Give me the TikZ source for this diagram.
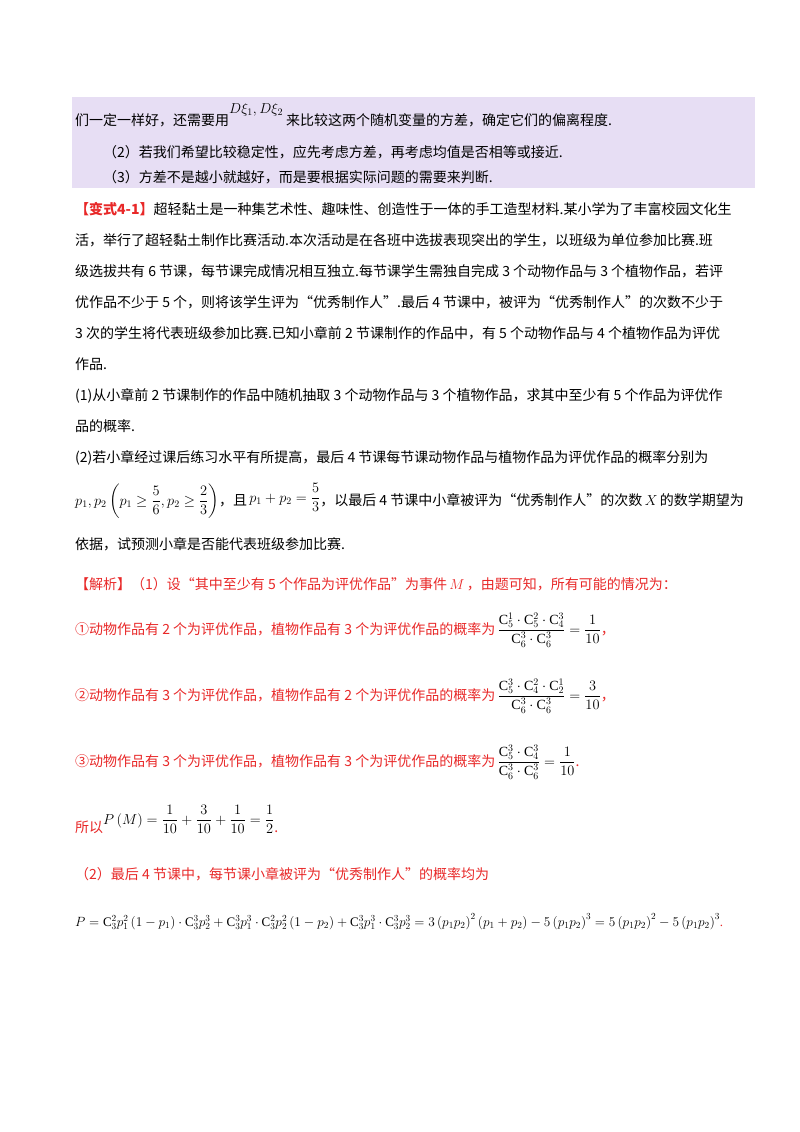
\documentclass[tikz,border=0pt]{standalone}
\usepackage{amsmath}
\usepackage{fontspec}
\setmainfont{Liberation Serif}
\newfontfamily\cjk{Noto Sans CJK SC}
\definecolor{boxbg}{RGB}{231,222,244}
\definecolor{ansred}{RGB}{232,40,40}
\tikzset{ln/.style={anchor=base west,inner sep=0pt,font=\cjk\fontsize{14}{16}\selectfont}}
\begin{document}
\begin{tikzpicture}[x=1pt,y=-1pt]
\useasboundingbox (0,0) rectangle (800,1132);
\fill[boxbg] (72,97) rectangle (755,188);
\node[ln] (l1) at (75,125) {们一定一样好，还需要用\raisebox{12pt}{$D\xi_1,D\xi_2$}\ 来比较这两个随机变量的方差，确定它们的偏离程度.};
\node[ln] (l2) at (103,157) {（2）若我们希望比较稳定性，应先考虑方差，再考虑均值是否相等或接近.};
\node[ln] (l3) at (103,182) {（3）方差不是越小就越好，而是要根据实际问题的需要来判断.};
\node[ln] (v1) at (75,214) {\textcolor{ansred}{\bfseries 【变式4-1】}超轻黏土是一种集艺术性、趣味性、创造性于一体的手工造型材料.某小学为了丰富校园文化生};
\node[ln] (v2) at (75,245) {活，举行了超轻黏土制作比赛活动.本次活动是在各班中选拔表现突出的学生，以班级为单位参加比赛.班};
\node[ln] (v3) at (75,276) {级选拔共有 6 节课，每节课完成情况相互独立.每节课学生需独自完成 3 个动物作品与 3 个植物作品，若评};
\node[ln] (v4) at (75,307) {优作品不少于 5 个，则将该学生评为“优秀制作人”.最后 4 节课中，被评为“优秀制作人”的次数不少于};
\node[ln] (v5) at (75,338) {3 次的学生将代表班级参加比赛.已知小章前 2 节课制作的作品中，有 5 个动物作品与 4 个植物作品为评优};
\node[ln] (v6) at (75,369) {作品.};
\node[ln] (q1) at (75,400) {(1)从小章前 2 节课制作的作品中随机抽取 3 个动物作品与 3 个植物作品，求其中至少有 5 个作品为评优作};
\node[ln] (q1b) at (75,431) {品的概率.};
\node[ln] (q2) at (75,462) {(2)若小章经过课后练习水平有所提高，最后 4 节课每节课动物作品与植物作品为评优作品的概率分别为};
\node[ln] (q2b) at (75,505) {$p_1,p_2\left(p_1\ge\dfrac56,p_2\ge\dfrac23\right)$，且\,\raisebox{3pt}{$p_1+p_2=\dfrac53$}，以最后 4 节课中小章被评为“优秀制作人”的次数$\,X\,$的数学期望为};
\node[ln] (q2c) at (75,549) {依据，试预测小章是否能代表班级参加比赛.};
\begin{scope}[every node/.append style={text=ansred}]
\node[ln] (a0) at (75,589) {【解析】（1）设“其中至少有 5 个作品为评优作品”为事件$\,M\,$，由题可知，所有可能的情况为：};
\node[ln] (a1) at (75,634) {①动物作品有 2 个为评优作品，植物作品有 3 个为评优作品的概率为\,\textcolor{black}{$\dfrac{\mathrm C_5^1\cdot\mathrm C_5^2\cdot\mathrm C_4^3}{\mathrm C_6^3\cdot\mathrm C_6^3}=\dfrac{1}{10}$}，};
\node[ln] (a2) at (75,700) {②动物作品有 3 个为评优作品，植物作品有 2 个为评优作品的概率为\,\textcolor{black}{$\dfrac{\mathrm C_5^3\cdot\mathrm C_4^2\cdot\mathrm C_2^1}{\mathrm C_6^3\cdot\mathrm C_6^3}=\dfrac{3}{10}$}，};
\node[ln] (a3) at (75,766) {③动物作品有 3 个为评优作品，植物作品有 3 个为评优作品的概率为\,\textcolor{black}{$\dfrac{\mathrm C_5^3\cdot\mathrm C_4^3}{\mathrm C_6^3\cdot\mathrm C_6^3}=\dfrac{1}{10}$}.};
\node[ln] (a4) at (75,832) {所以\raisebox{8pt}{\textcolor{black}{$P\left(M\right)=\dfrac1{10}+\dfrac3{10}+\dfrac1{10}=\dfrac12$}}.};
\node[ln] (a5) at (75,879) {（2）最后 4 节课中，每节课小章被评为“优秀制作人”的概率均为};
\node[anchor=base west,inner sep=0pt] (a6) at (75,926) {\resizebox{648pt}{!}{\fontsize{14}{16}\selectfont\textcolor{black}{$P=\mathrm C_3^2p_1^2\left(1-p_1\right)\cdot\mathrm C_3^3p_2^3+\mathrm C_3^3p_1^3\cdot\mathrm C_3^2p_2^2\left(1-p_2\right)+\mathrm C_3^3p_1^3\cdot\mathrm C_3^3p_2^3=3\left(p_1p_2\right)^2\left(p_1+p_2\right)-5\left(p_1p_2\right)^3=5\left(p_1p_2\right)^2-5\left(p_1p_2\right)^3$}\textcolor{ansred}{.}}};
\end{scope}
\end{tikzpicture}
\end{document}
